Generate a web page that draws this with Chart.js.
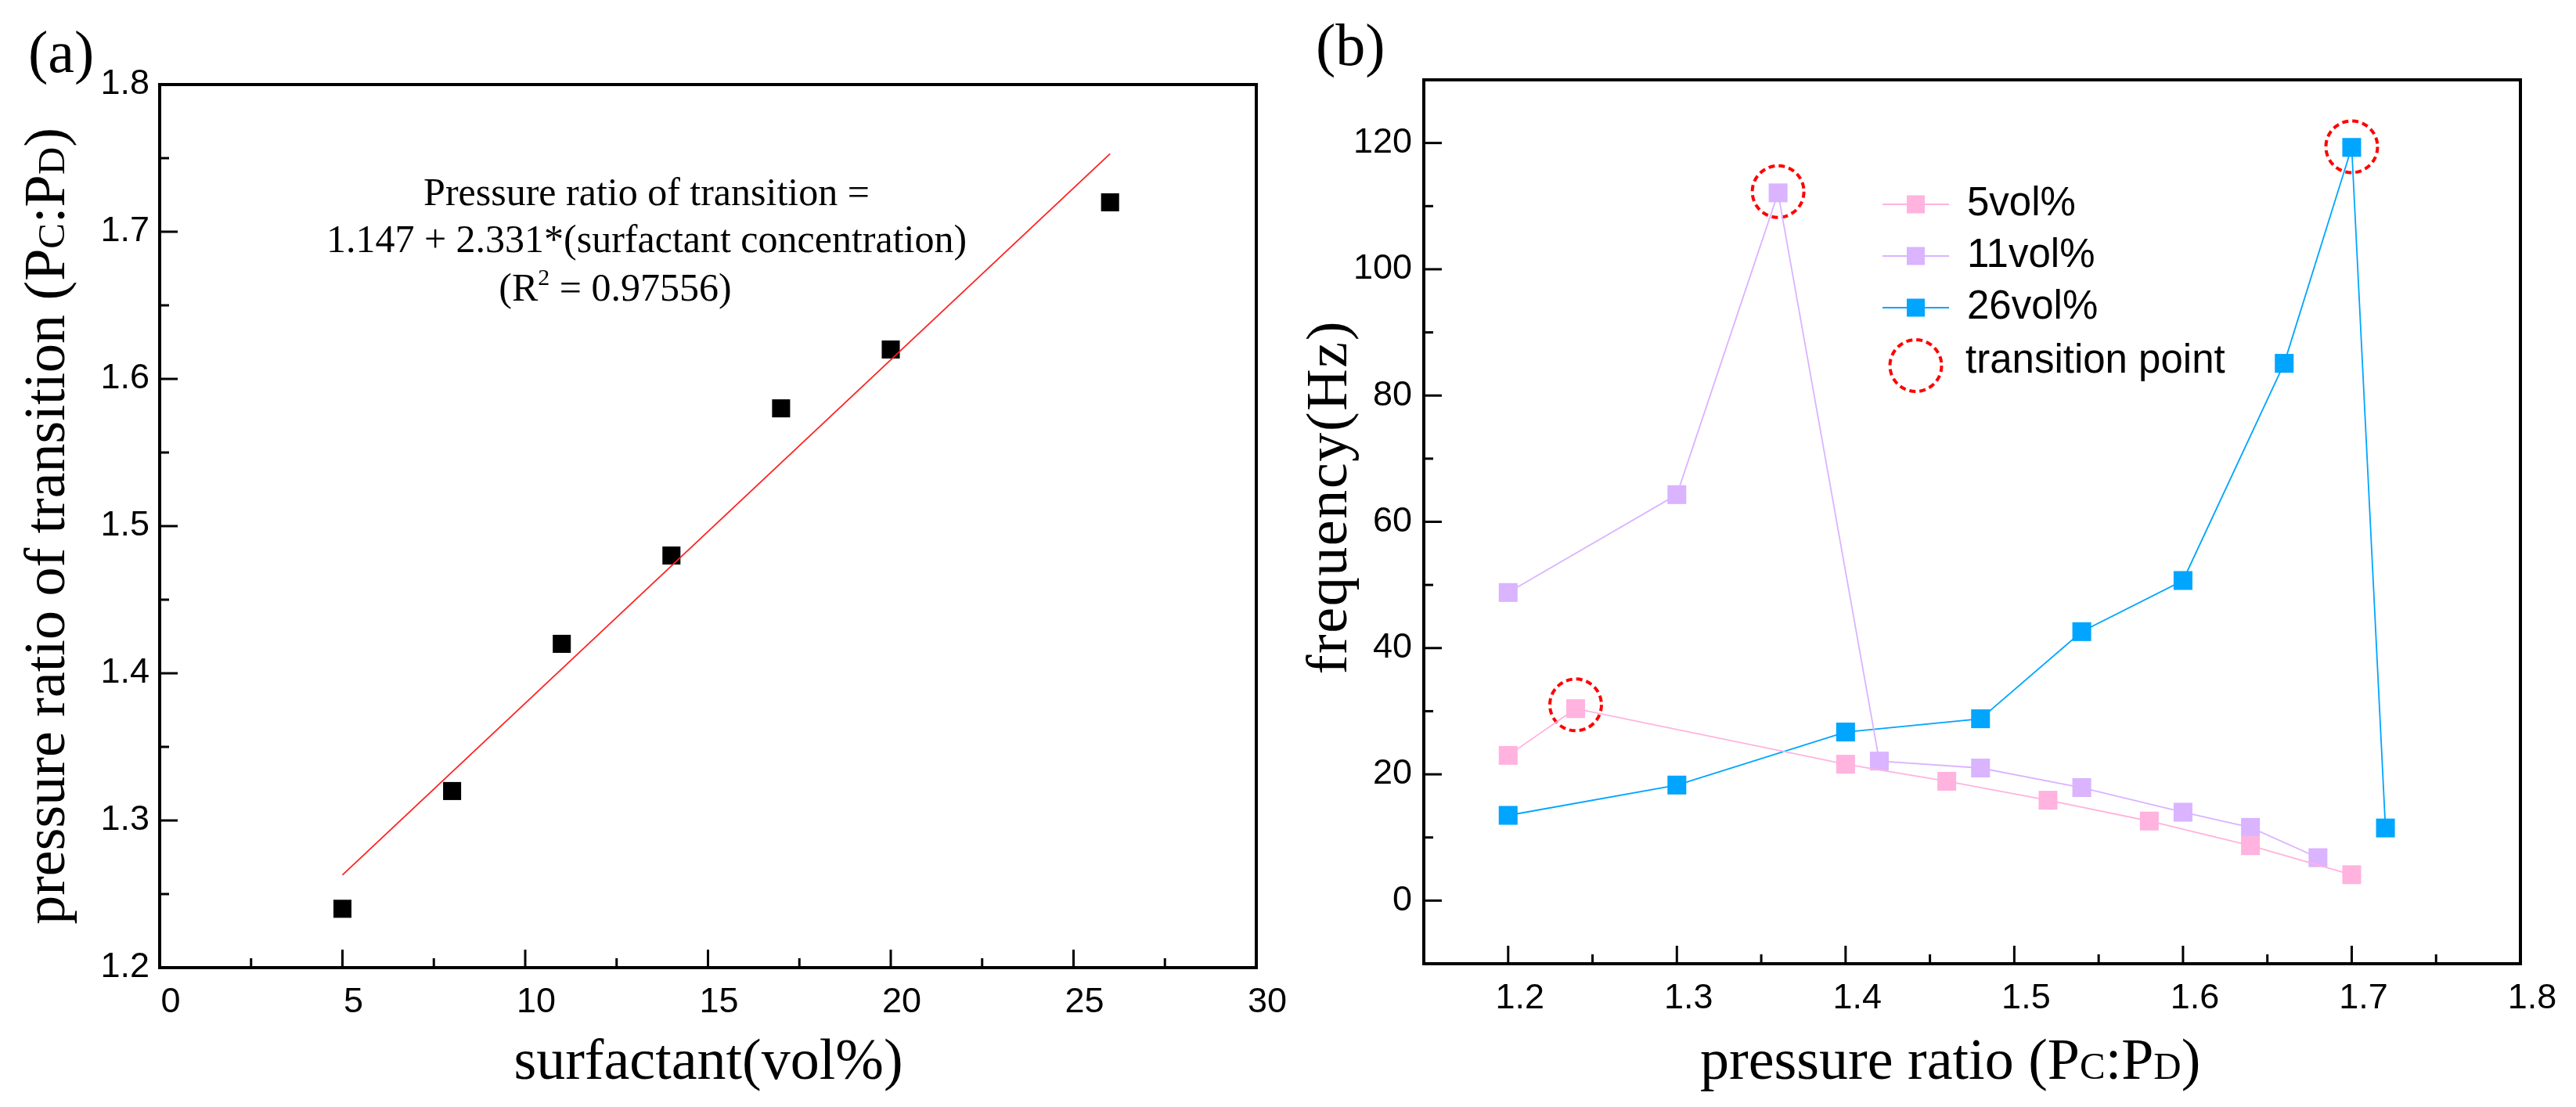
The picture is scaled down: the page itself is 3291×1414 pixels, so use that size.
<!DOCTYPE html>
<html><head><meta charset="utf-8">
<script src="https://cdn.jsdelivr.net/npm/chart.js@4.4.0/dist/chart.umd.min.js"></script>
<style>
html,body{margin:0;padding:0;background:#fff;width:3291px;height:1414px;overflow:hidden}
canvas{position:absolute;top:0}
#ca{left:0}
#cb{left:1650px}
</style></head><body>
<canvas id="ca" width="1650" height="1414"></canvas>
<canvas id="cb" width="1641" height="1414"></canvas>
<script>
// ---------- data (a) ----------
const surfactantVol   = [5, 8, 11, 14, 17, 20, 26];
const transitionRatio = [1.24, 1.32, 1.42, 1.48, 1.58, 1.62, 1.72];
const fitLineX = [5, 26];
const fitLineY = [1.263, 1.753];
const xTicksA = [0, 5, 10, 15, 20, 25, 30];
const yTicksA = [1.2, 1.3, 1.4, 1.5, 1.6, 1.7, 1.8];
// ---------- data (b) ----------
const ratio5   = [1.20, 1.24, 1.40, 1.46, 1.52, 1.58, 1.64, 1.70];
const freq5    = [23.0, 30.4, 21.6, 18.9, 15.9, 12.6, 8.7, 4.1];
const ratio11  = [1.20, 1.30, 1.36, 1.42, 1.48, 1.54, 1.60, 1.64, 1.68];
const freq11   = [48.8, 64.3, 112.1, 22.1, 21.0, 17.9, 14.0, 11.6, 6.8];
const ratio26  = [1.20, 1.30, 1.40, 1.48, 1.54, 1.60, 1.66, 1.70, 1.72];
const freq26   = [13.5, 18.3, 26.7, 28.8, 42.6, 50.7, 85.1, 119.3, 11.5];
const transitionX = [1.24, 1.36, 1.70];
const transitionY = [31.0, 112.3, 119.4];
const seriesNames = ['5vol%', '11vol%', '26vol%', 'transition point'];
const seriesColors = ['#FFB3DE', '#DAB4FF', '#00A5FF'];
const xTicksB = [1.2, 1.3, 1.4, 1.5, 1.6, 1.7, 1.8];
const yTicksB = [0, 20, 40, 60, 80, 100, 120];

const SANS = '"Liberation Sans", Arial, sans-serif';
const SERIF = '"Liberation Serif", "Times New Roman", serif';
const pts = (xs, ys) => xs.map((x, i) => ({x: x, y: ys[i]}));
const mids = arr => arr.slice(1).map((v, i) => (v + arr[i]) / 2);

// draws runs of text (mixed sizes) char by char with optional extra spacing
function drawRuns(ctx, runs, x, y, rot, align, spacing) {
  const sp = spacing || 0;
  ctx.save();
  ctx.translate(x, y);
  ctx.rotate(rot);
  let total = 0;
  runs.forEach(r => {
    ctx.font = r.font;
    r.ch = Array.from(r.t).map(c => ctx.measureText(c).width);
    r.w = ctx.measureText(r.t).width + sp * r.ch.length;
    total += r.w;
  });
  total -= sp;
  let cx = align === 'center' ? -total / 2 : 0;
  ctx.textBaseline = 'alphabetic';
  ctx.textAlign = 'left';
  ctx.fillStyle = '#000';
  runs.forEach(r => {
    ctx.font = r.font;
    if (sp === 0) { ctx.fillText(r.t, cx, r.dy || 0); cx += r.w; return; }
    Array.from(r.t).forEach((c, i) => { ctx.fillText(c, cx, r.dy || 0); cx += r.ch[i] + sp; });
  });
  ctx.restore();
}
const sf = s => s + 'px ' + SERIF;
function pcpd(size) {
  const s = Math.round(size * 0.66);
  return [{t: '(P', font: sf(size)}, {t: 'C', font: sf(s)}, {t: ':', font: sf(size)},
          {t: 'P', font: sf(size)}, {t: 'D', font: sf(s)}, {t: ')', font: sf(size)}];
}

// frame + inward ticks
const frameTicks = {
  id: 'frameTicks',
  afterDraw(chart, args, o) {
    const {ctx, chartArea: a, scales: {x, y}} = chart;
    ctx.save();
    ctx.strokeStyle = '#000';
    ctx.lineCap = 'butt';
    ctx.lineWidth = 3;
    const xt = (vals, len) => vals.forEach(v => {
      const p = x.getPixelForValue(v);
      if (p <= a.left + 2 || p >= a.right - 2) return;
      ctx.beginPath(); ctx.moveTo(p, a.bottom); ctx.lineTo(p, a.bottom - len); ctx.stroke();
    });
    const yt = (vals, len) => vals.forEach(v => {
      const p = y.getPixelForValue(v);
      if (p <= a.top + 2 || p >= a.bottom - 2) return;
      ctx.beginPath(); ctx.moveTo(a.left, p); ctx.lineTo(a.left + len, p); ctx.stroke();
    });
    xt(o.xMajor, 23); xt(mids(o.xMajor), 12);
    yt(o.yMajor, 23); yt(mids(o.yMajor), 12);
    ctx.lineWidth = 4;
    ctx.strokeRect(a.left, a.top, a.right - a.left, a.bottom - a.top);
    ctx.restore();
  }
};

const dashPts = {
  id: 'dashPts',
  beforeDatasetDraw(chart, args) {
    if (chart.data.datasets[args.index].dashed) { chart.ctx.save(); chart.ctx.setLineDash([8, 5]); }
  },
  afterDatasetDraw(chart, args) {
    if (chart.data.datasets[args.index].dashed) chart.ctx.restore();
  }
};

function scaleCfg(min, max, ticksArr, fmt, isX, axisSize, pad, labelOffset) {
  return {
    type: 'linear', min: min, max: max,
    grid: {display: false, drawTicks: false},
    border: {display: false},
    afterBuildTicks: s => { s.ticks = ticksArr.map(v => ({value: v})); },
    afterFit: s => { if (isX) s.height = axisSize; else s.width = axisSize; },
    ticks: {
      font: {family: SANS, size: 45}, color: '#000', padding: pad,
      labelOffset: labelOffset || 0, maxRotation: 0, autoSkip: false,
      callback: v => fmt(v)
    }
  };
}

// ---------- chart (a) ----------
const textsA = {
  id: 'textsA',
  afterDraw(chart) {
    const ctx = chart.ctx;
    drawRuns(ctx, [{t: '(a)', font: sf(76)}], 36, 92, 0, 'left');
    drawRuns(ctx, [{t: 'surfactant(vol%)', font: sf(74)}], 905, 1378, 0, 'center');
    drawRuns(ctx, [{t: 'pressure ratio of transition ', font: sf(74)}].concat(pcpd(74)), 82, 672, -Math.PI / 2, 'center');
    drawRuns(ctx, [{t: 'Pressure ratio of transition =', font: sf(50)}], 826, 262, 0, 'center');
    drawRuns(ctx, [{t: '1.147 + 2.331*(surfactant concentration)', font: sf(50)}], 826, 322, 0, 'center');
    drawRuns(ctx, [{t: '(R', font: sf(50)}, {t: '2', font: sf(30), dy: -20}, {t: ' = 0.97556)', font: sf(50)}], 786, 384, 0, 'center');
  }
};

new Chart(document.getElementById('ca'), {
  type: 'scatter',
  data: {
    datasets: [
      {label: 'fit', data: pts(fitLineX, fitLineY), showLine: true, borderColor: '#FF2020',
       borderWidth: 1.8, pointRadius: 0, pointHoverRadius: 0},
      {label: 'data', data: pts(surfactantVol, transitionRatio), pointStyle: 'rect',
       pointRadius: 16.3, pointBorderWidth: 0, backgroundColor: '#000', borderColor: '#000'}
    ]
  },
  options: {
    responsive: false, animation: false, devicePixelRatio: 1,
    layout: {padding: {left: 0, top: 108, right: 45, bottom: 0}},
    plugins: {legend: {display: false}, tooltip: {enabled: false},
              frameTicks: {xMajor: xTicksA, yMajor: yTicksA}},
    scales: {
      x: scaleCfg(0, 30, xTicksA, v => String(v), true, 178, 18, 14),
      y: scaleCfg(1.2, 1.8, yTicksA, v => v.toFixed(1), false, 204, 13)
    }
  },
  plugins: [frameTicks, textsA]
});

// ---------- chart (b) ----------
const textsB = {
  id: 'textsB',
  afterDraw(chart) {
    const ctx = chart.ctx;
    drawRuns(ctx, [{t: '(b)', font: sf(76)}], 31, 83, 0, 'left');
    drawRuns(ctx, [{t: 'pressure ratio ', font: sf(74)}].concat(pcpd(74)), 522, 1378, 0, 'left');
    drawRuns(ctx, [{t: 'frequency(Hz)', font: sf(74)}], 70, 636, -Math.PI / 2, 'center', 1.6);
    // legend
    const rows = [261, 327, 393];
    const ds = chart.data.datasets;
    ctx.save();
    for (let i = 0; i < 3; i++) {
      const y = rows[i];
      ctx.strokeStyle = ds[i].borderColor; ctx.lineWidth = 2;
      ctx.beginPath(); ctx.moveTo(755, y); ctx.lineTo(840, y); ctx.stroke();
      ctx.fillStyle = ds[i].backgroundColor;
      ctx.fillRect(797.5 - 11.5, y - 11.5, 23, 23);
      ctx.fillStyle = '#000'; ctx.font = '51px ' + SANS;
      ctx.textBaseline = 'middle'; ctx.textAlign = 'left';
      ctx.fillText(ds[i].label, 863, y);
    }
    ctx.strokeStyle = '#FF0000'; ctx.lineWidth = 4; ctx.setLineDash([8, 5]);
    ctx.beginPath(); ctx.arc(797.5, 467, 33, 0, Math.PI * 2); ctx.stroke();
    ctx.setLineDash([]);
    ctx.fillStyle = '#000'; ctx.font = '51px ' + SANS;
    ctx.textBaseline = 'middle'; ctx.textAlign = 'left';
    ctx.fillText(ds[3].label, 861, 462);
    ctx.restore();
  }
};

const lineDs = (i, xs, ys) => ({
  label: seriesNames[i], data: pts(xs, ys), showLine: true,
  borderColor: seriesColors[i], backgroundColor: seriesColors[i], borderWidth: 1.8,
  pointStyle: 'rect', pointRadius: 17, pointBorderWidth: 0
});

new Chart(document.getElementById('cb'), {
  type: 'scatter',
  data: {
    datasets: [
      lineDs(0, ratio5, freq5),
      lineDs(1, ratio11, freq11),
      lineDs(2, ratio26, freq26),
      {label: seriesNames[3], data: pts(transitionX, transitionY), dashed: true, showLine: false,
       pointStyle: 'circle', pointRadius: 33, pointBorderWidth: 4,
       borderColor: '#FF0000', backgroundColor: 'rgba(0,0,0,0)'}
    ]
  },
  options: {
    responsive: false, animation: false, devicePixelRatio: 1,
    layout: {padding: {left: 0, top: 102, right: 71, bottom: 0}},
    plugins: {legend: {display: false}, tooltip: {enabled: false},
              frameTicks: {xMajor: xTicksB, yMajor: [-20].concat(yTicksB, [140])}},
    scales: {
      x: scaleCfg(1.15, 1.8, xTicksB, v => v.toFixed(1), true, 183, 18, 15),
      y: scaleCfg(-10, 130, yTicksB, v => String(v), false, 169, 15)
    }
  },
  plugins: [dashPts, frameTicks, textsB]
});
</script>
</body></html>
